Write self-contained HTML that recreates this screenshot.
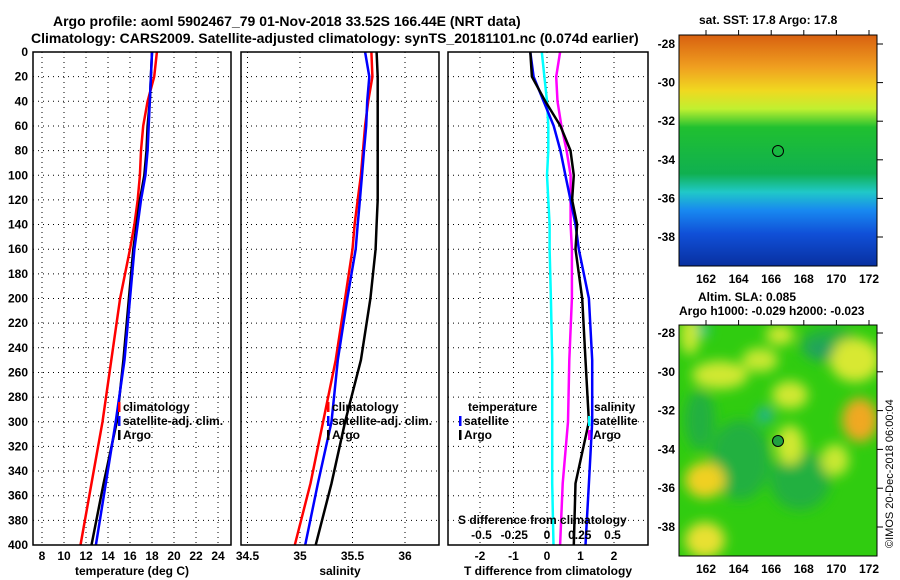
<!DOCTYPE html>
<html><head><meta charset="utf-8"><style>
body{margin:0;background:#fff;}
svg{display:block;font-family:"Liberation Sans",sans-serif;font-weight:bold;}
</style></head><body>
<svg id="c" width="900" height="580" viewBox="0 0 900 580">
<defs>
<linearGradient id="sst" x1="0" y1="0" x2="0" y2="1">
<stop offset="0" stop-color="#d86010"/><stop offset="0.14" stop-color="#f0a020"/><stop offset="0.24" stop-color="#f0d820"/>
<stop offset="0.32" stop-color="#c0f030"/><stop offset="0.4" stop-color="#20c030"/><stop offset="0.6" stop-color="#10b050"/>
<stop offset="0.68" stop-color="#20c8c8"/><stop offset="0.76" stop-color="#1888f0"/><stop offset="0.86" stop-color="#1050d8"/><stop offset="1" stop-color="#0830a0"/>
</linearGradient>
<filter id="bl"><feGaussianBlur stdDeviation="6"/></filter>
<clipPath id="m2c"><rect x="679" y="325" width="198" height="231"/></clipPath>
</defs>
<g id="title" font-size="14">
<text x="53" y="26">Argo profile: aoml 5902467_79 01-Nov-2018 33.52S 166.44E (NRT data)</text>
<text x="31" y="43">Climatology: CARS2009. Satellite-adjusted climatology: synTS_20181101.nc (0.074d earlier)</text>
</g>
<g id="plots"></g>
<g id="maps">
<text x="699" y="24" font-size="12">sat. SST: 17.8 Argo: 17.8</text>
<rect x="679" y="35" width="198" height="231" fill="url(#sst)"/>
<circle cx="778" cy="151" r="5.5" fill="none" stroke="#000"/>
<text x="698" y="301" font-size="12">Altim. SLA: 0.085</text>
<text x="679" y="315" font-size="12">Argo h1000: -0.029 h2000: -0.023</text>
<g clip-path="url(#m2c)">
<rect x="679" y="325" width="198" height="231" fill="#30cc10"/>
<g filter="url(#bl)">
<ellipse cx="740" cy="460" rx="30" ry="40" fill="#20b040"/><ellipse cx="800" cy="480" rx="30" ry="30" fill="#20b040"/>
<ellipse cx="830" cy="345" rx="30" ry="18" fill="#20b040"/><ellipse cx="700" cy="420" rx="15" ry="30" fill="#20b040"/>
<ellipse cx="705" cy="480" rx="20" ry="18" fill="#f0d020"/><ellipse cx="705" cy="540" rx="20" ry="18" fill="#e8e030"/>
<ellipse cx="860" cy="420" rx="18" ry="22" fill="#f0a820"/><ellipse cx="855" cy="360" rx="25" ry="22" fill="#d8e830"/>
<ellipse cx="720" cy="375" rx="28" ry="14" fill="#d0e830"/><ellipse cx="790" cy="395" rx="18" ry="14" fill="#d0e830"/>
<ellipse cx="790" cy="445" rx="14" ry="20" fill="#d0e830"/><ellipse cx="835" cy="460" rx="14" ry="16" fill="#c8e830"/>
<ellipse cx="765" cy="415" rx="8" ry="8" fill="#20b0a0"/><ellipse cx="820" cy="350" rx="15" ry="8" fill="#20a060"/>
<ellipse cx="700" cy="330" rx="10" ry="6" fill="#20c0b0"/><ellipse cx="780" cy="335" rx="14" ry="10" fill="#d0e830"/>
<ellipse cx="690" cy="335" rx="10" ry="20" fill="#c8e830"/><ellipse cx="760" cy="360" rx="18" ry="12" fill="#c8e830"/>
</g></g>
<rect x="679" y="325" width="198" height="231" fill="none" stroke="#000"/>
<circle cx="778" cy="441" r="5.5" fill="#20a040" stroke="#000"/>
<text transform="translate(893,548) rotate(-90)" font-size="11" font-weight="normal">©IMOS 20-Dec-2018 06:00:04</text>
</g>
</svg>
<script>
const depth=[0,20,40,60,80,100,120,140,160,200,250,300,350,400];
const tArgo=[18.0,17.9,17.8,17.6,17.5,17.3,16.9,16.6,16.3,15.9,15.4,14.8,13.6,12.5];
const tClim=[18.45,18.2,17.6,17.2,17.0,16.9,16.7,16.4,16.0,15.1,14.3,13.5,12.5,11.5];
const tSat=[18.0,17.9,17.8,17.7,17.6,17.4,17.0,16.7,16.4,16.0,15.5,14.7,13.8,12.9];
const sArgo=[35.73,35.74,35.74,35.74,35.74,35.74,35.74,35.73,35.72,35.67,35.58,35.43,35.3,35.15];
const sClim=[35.68,35.69,35.65,35.62,35.6,35.58,35.55,35.52,35.5,35.43,35.34,35.22,35.1,34.95];
const sSat=[35.62,35.66,35.64,35.63,35.61,35.59,35.57,35.55,35.53,35.45,35.36,35.3,35.17,35.05];
const dtArgo=[-0.5,-0.45,-0.05,0.4,0.7,0.8,0.75,0.9,0.85,1.05,1.15,1.25,0.85,0.8];
const dtSat=[-0.5,-0.4,-0.1,0.2,0.4,0.55,0.7,0.85,0.95,1.25,1.35,1.35,1.25,1.15];
const dsArgo=[0.1,0.07,0.08,0.11,0.15,0.18,0.18,0.18,0.19,0.19,0.17,0.16,0.12,0.1];
const dsSat=[-0.04,-0.02,0.0,0.01,0.01,0.0,0.01,0.02,0.02,0.03,0.04,0.04,0.04,0.05];
const tTicks=[8,10,12,14,16,18,20,22,24];
const sTicks=[34.5,35,35.5,36];
const dtTicks=[-2,-1,0,1,2];
const dsTicks=["-0.5","-0.25","0","0.25","0.5"];
const yTicks=[0,20,40,60,80,100,120,140,160,180,200,220,240,260,280,300,320,340,360,380,400];
const latTicks=[-28,-30,-32,-34,-36,-38];
const lonTicks=[162,164,166,168,170,172];

const NS='http://www.w3.org/2000/svg';
const g=document.getElementById('plots');
function mk(tag,at,par){const e=document.createElementNS(NS,tag);for(const k in at)e.setAttribute(k,at[k]);(par||g).appendChild(e);return e;}
const Y=d=>52+d*1.2325;
const xT=v=>42+(v-8)*11;
const xS=v=>300+(v-35)*105;
const xDT=v=>547+v*33.5;
const xDS=v=>547+v*131;
const panels=[[33,231],[241,439],[448,648]];
panels.forEach((p,i)=>{
  yTicks.forEach(t=>{if(t>0&&t<400){const l=mk('line',{x1:p[0],x2:p[1],y1:Y(t),y2:Y(t),stroke:'#000','stroke-dasharray':'1 4'});}});
});
tTicks.forEach(t=>{const x=xT(t);const l=mk('line',{x1:x,x2:x,y1:52,y2:545,stroke:'#000','stroke-dasharray':'1 4'});
 const tx=mk('text',{x:x,y:560,'font-size':12,'text-anchor':'middle'});tx.textContent=t;});
sTicks.forEach(t=>{const x=xS(t);const l=mk('line',{x1:x,x2:x,y1:52,y2:545,stroke:'#000','stroke-dasharray':'1 4'});
 const tx=mk('text',{x:x,y:560,'font-size':12,'text-anchor':'middle'});tx.textContent=t;});
dtTicks.forEach(t=>{const x=xDT(t);const l=mk('line',{x1:x,x2:x,y1:52,y2:545,stroke:'#000','stroke-dasharray':'1 4'});
 const tx=mk('text',{x:x,y:560,'font-size':12,'text-anchor':'middle'});tx.textContent=t;});
yTicks.forEach(t=>{const tx=mk('text',{x:28,y:Y(t)+4,'font-size':12,'text-anchor':'end'});tx.textContent=t;});
function line(xs,vals,fx,col,w,name){
  const pts=vals.map((v,i)=>fx(v).toFixed(1)+','+Y(xs[i]).toFixed(1)).join(' ');
  const e=mk('polyline',{points:pts,fill:'none',stroke:col,'stroke-width':w});
  
  
}
line(depth,tClim,xT,'#f00',2.5,'temp-climatology-line');
line(depth,tArgo,xT,'#000',2.5,'temp-argo-line');
line(depth,tSat,xT,'#00f',2.5,'temp-satellite-line');
line(depth,sClim,xS,'#f00',2.5,'sal-climatology-line');
line(depth,sSat,xS,'#00f',2.5,'sal-satellite-line');
line(depth,sArgo,xS,'#000',2.5,'sal-argo-line');
line(depth,dsSat,xDS,'#0ff',2.5,'s-diff-satellite-line');
line(depth,dsArgo,xDS,'#f0f',2.5,'s-diff-argo-line');
line(depth,dtSat,xDT,'#00f',2.5,'t-diff-satellite-line');
line(depth,dtArgo,xDT,'#000',2.5,'t-diff-argo-line');
panels.forEach(p=>{const r=mk('rect',{x:p[0],y:52,width:p[1]-p[0],height:493,fill:'none',stroke:'#000','stroke-width':1.5});});
function leg(x,y,col,label,name){
  const b=mk('rect',{x:x,y:y-9,width:2.5,height:10,fill:col});
  const t=mk('text',{x:x+5,y:y,'font-size':12});t.textContent=label;
}
leg(118,411,'#f00','climatology','legend-climatology');leg(118,425,'#00f','satellite-adj. clim.','legend-satellite-adj');leg(118,439,'#000','Argo','legend-argo');
leg(327,411,'#f00','climatology','legend-climatology-s');leg(327,425,'#00f','satellite-adj. clim.','legend-satellite-adj-s');leg(327,439,'#000','Argo','legend-argo-s');
let t0=mk('text',{x:468,y:411,'font-size':12});t0.textContent='temperature';
leg(459,425,'#00f','satellite','legend-t-satellite');leg(459,439,'#000','Argo','legend-t-argo');
let t1=mk('text',{x:594,y:411,'font-size':12});t1.textContent='salinity';
leg(588,425,'#0ff','satellite','legend-s-satellite');leg(588,439,'#f0f','Argo','legend-s-argo');
let t2=mk('text',{x:458,y:524,'font-size':12});t2.textContent='S difference from climatology';
dsTicks.forEach(s=>{const tx=mk('text',{x:xDS(+s),y:539,'font-size':12,'text-anchor':'middle'});tx.textContent=s;});
[['temperature (deg C)',132,'temp-axis-title'],['salinity',340,'sal-axis-title'],['T difference from climatology',548,'t-diff-axis-title']].forEach(a=>{const tx=mk('text',{x:a[1],y:575,'font-size':12,'text-anchor':'middle'});tx.textContent=a[0];});
const m=document.getElementById('maps');
[[35,266,44,19.3],[325,556,333,19.4]].forEach((mp,k)=>{
  latTicks.forEach(l=>{const y=mp[2]+(-28-l)*mp[3];
    mk('line',{x1:877,x2:883,y1:y,y2:y,stroke:'#000'},m);
    const tx=mk('text',{x:675,y:y+4,'font-size':12,'text-anchor':'end'},m);tx.textContent=l;});
  lonTicks.forEach(l=>{const x=706+(l-162)*16.3;
    mk('line',{x1:x,x2:x,y1:mp[0]-5,y2:mp[0],stroke:'#000'},m);
    const tx=mk('text',{x:x,y:mp[1]+17,'font-size':12,'text-anchor':'middle'},m);tx.textContent=l;});
});
mk('rect',{x:679,y:35,width:198,height:231,fill:'none',stroke:'#000'},m);
</script>
</body></html>
